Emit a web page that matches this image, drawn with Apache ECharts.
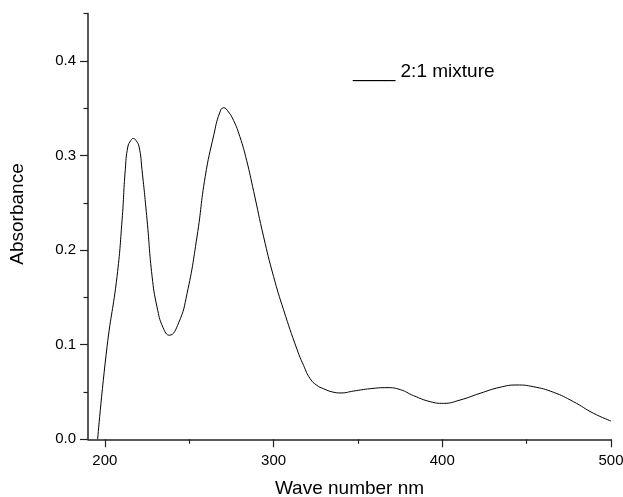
<!DOCTYPE html>
<html>
<head>
<meta charset="utf-8">
<script src="https://cdn.jsdelivr.net/npm/echarts@6/dist/echarts.min.js"></script>
<style>html,body{margin:0;padding:0;background:#fff;overflow:hidden}#c{width:623px;height:497px}</style>
</head>
<body>
<div id="c"></div>
<script>
// Wavelength (nm) and absorbance
var wavelength = [195.7, 201.3, 207.2, 210.2, 212.1, 213.6, 215.4, 216.9, 218.4, 220.3, 222.0, 225.0, 228.0, 230.9, 234.5, 238.2, 243.7, 248.7, 254.6, 259.5, 264.6, 268.0, 270.4, 273.3, 276.3, 280.0, 284.0, 288.2, 294.1, 300.0, 305.9, 313.9, 317.8, 321.7, 325.7, 329.6, 335.0, 340.0, 347.4, 357.3, 367.2, 375.1, 382.9, 392.8, 400.7, 410.5, 422.4, 434.2, 444.2, 454.0, 465.9, 477.7, 489.6, 500.0];
var absorbance = [0.0, 0.098, 0.172, 0.232, 0.285, 0.309, 0.316, 0.318, 0.316, 0.309, 0.285, 0.232, 0.172, 0.140, 0.118, 0.110, 0.123, 0.154, 0.214, 0.278, 0.322, 0.345, 0.3505, 0.346, 0.337, 0.320, 0.295, 0.262, 0.214, 0.172, 0.137, 0.095, 0.078, 0.064, 0.057, 0.0535, 0.050, 0.049, 0.051, 0.0535, 0.0546, 0.0525, 0.0462, 0.0398, 0.038, 0.0415, 0.0486, 0.055, 0.0574, 0.0556, 0.0497, 0.0398, 0.0275, 0.0193];
var xMajorTicks = [200, 300, 400, 500];
var xMinorTicks = [250, 350, 450];
var yMajorTicks = [0, 0.1, 0.2, 0.3, 0.4];
var yMinorTicks = [0.05, 0.15, 0.25, 0.35, 0.45];
var seriesName = '2:1 mixture';
var xTitle = 'Wave number nm';
var yTitle = 'Absorbance';

var FONT = '"Liberation Sans", Arial, sans-serif';
var data = wavelength.map(function (w, i) { return [w, absorbance[i]]; });

var chart = echarts.init(document.getElementById('c'), null, {renderer: 'canvas', width: 623, height: 497});
chart.setOption({
  animation: false,
  backgroundColor: '#fff',
  grid: {left: 88, right: 12, top: 13.6, bottom: 57.7, containLabel: false, outerBoundsMode: 'none'},
  xAxis: [{
    type: 'value', min: 190, max: 500, splitNumber: 3,
    axisLine: {show: true, lineStyle: {color: '#222', width: 1.5}},
    axisTick: {show: true, customValues: xMajorTicks, length: 8, inside: false, lineStyle: {color: '#222', width: 1.2}},
    axisLabel: {customValues: xMajorTicks, color: '#000', fontFamily: FONT, fontSize: 15, margin: 14},
    splitLine: {show: false},
    name: xTitle, nameLocation: 'middle', nameGap: 40,
    nameTextStyle: {color: '#000', fontFamily: FONT, fontSize: 19}
  }, {
    type: 'value', min: 190, max: 500, position: 'bottom',
    axisLine: {show: false},
    axisTick: {show: true, customValues: xMinorTicks, length: 4.5, lineStyle: {color: '#222', width: 1.2}},
    axisLabel: {show: false},
    splitLine: {show: false}
  }],
  yAxis: [{
    type: 'value', min: 0, max: 0.45, interval: 0.1,
    axisLine: {show: true, lineStyle: {color: '#222', width: 1.5}},
    axisTick: {show: true, customValues: yMajorTicks, length: 8, inside: false, lineStyle: {color: '#222', width: 1.2}},
    axisLabel: {customValues: yMajorTicks, color: '#000', fontFamily: FONT, fontSize: 15, margin: 12,
      formatter: function (v) { return v.toFixed(1); }},
    splitLine: {show: false}
  }, {
    type: 'value', min: 0, max: 0.45, position: 'left',
    axisLine: {show: false},
    axisTick: {show: true, customValues: yMinorTicks, length: 4.5, lineStyle: {color: '#222', width: 1.2}},
    axisLabel: {show: false},
    splitLine: {show: false}
  }],
  graphic: [{
    type: 'text', left: 353, top: 62,
    style: {text: '____ ' + seriesName, fill: '#000', font: '19px ' + FONT}
  }, {
    type: 'text', x: 18, y: 214, rotation: Math.PI / 2,
    style: {text: yTitle, fill: '#000', font: '19px ' + FONT, align: 'center', verticalAlign: 'middle'}
  }],
  series: [{
    type: 'line', name: seriesName, data: data, xAxisIndex: 0, yAxisIndex: 0,
    showSymbol: false, smooth: 0.5,
    lineStyle: {color: '#000', width: 1}
  }]
});
</script>
</body>
</html>
